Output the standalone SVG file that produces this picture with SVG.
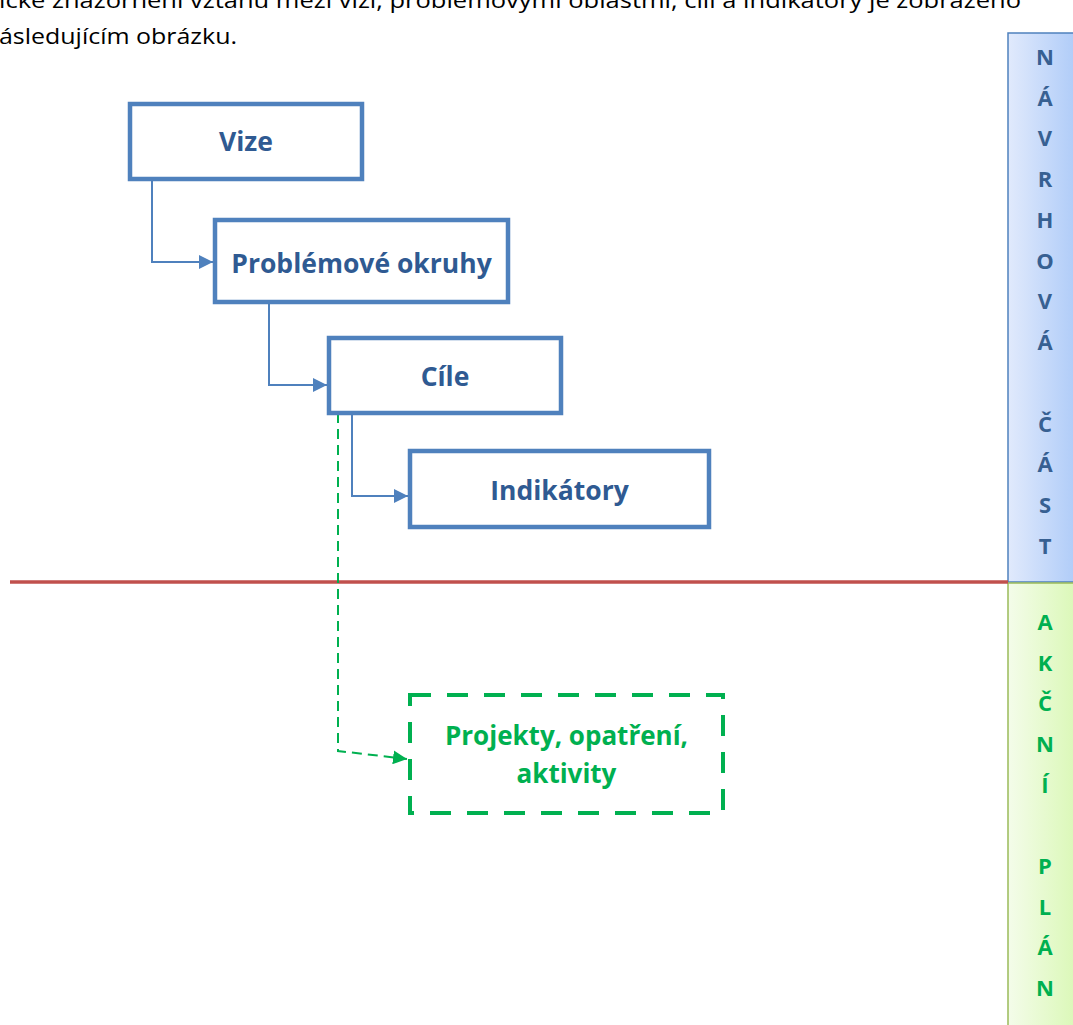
<svg xmlns="http://www.w3.org/2000/svg" width="1073" height="1025" viewBox="0 0 1073 1025">
<defs>
<linearGradient id="gBlue" x1="0" y1="0" x2="1" y2="0">
<stop offset="0" stop-color="#E1EAFC"/>
<stop offset="1" stop-color="#AECBF8"/>
</linearGradient>
<linearGradient id="gGreen" x1="0" y1="0" x2="1" y2="0">
<stop offset="0" stop-color="#F4FCEA"/>
<stop offset="1" stop-color="#DAF8B6"/>
</linearGradient>
<marker id="arrB" viewBox="0 0 10 10" refX="10" refY="5" markerWidth="14" markerHeight="14" markerUnits="userSpaceOnUse" orient="auto">
<path d="M0,0 L10,5 L0,10 z" fill="#4F81BD"/>
</marker>
<marker id="arrG" viewBox="0 0 10 10" refX="10" refY="5" markerWidth="14" markerHeight="14" markerUnits="userSpaceOnUse" orient="auto">
<path d="M0,0 L10,5 L0,10 z" fill="#00B050"/>
</marker>
</defs>
<style>
.body{font-family:"Open Sans","Liberation Sans",sans-serif;font-size:22px;fill:#000}
.box{fill:#fff;stroke:#4F81BD;stroke-width:4.5}
.lbl{font-family:"Open Sans","Liberation Sans",sans-serif;font-weight:bold;font-size:26.5px;fill:#2F5A92;text-anchor:middle}
.glbl{font-family:"Open Sans","Liberation Sans",sans-serif;font-weight:bold;font-size:26px;fill:#00B050;text-anchor:middle}
.side{font-family:"Open Sans","Liberation Sans",sans-serif;font-weight:bold;font-size:22px;text-anchor:middle}
.conn{fill:none;stroke:#4F81BD;stroke-width:2}
.gconn{fill:none;stroke:#00B050;stroke-width:2;stroke-dasharray:10 6}
</style>
<rect width="1073" height="1025" fill="#fff"/>
<g id="intro">
<text class="body" x="-1" y="8" textLength="1022" lengthAdjust="spacingAndGlyphs">ické znázornění vztahu mezi vizí, problémovými oblastmi, cíli a indikátory je zobrazeno</text>
<text class="body" x="-1" y="44" textLength="238" lengthAdjust="spacingAndGlyphs">ásledujícím obrázku.</text>
</g>
<g id="navrhova-cast">
<rect x="1008" y="33" width="70" height="549" fill="url(#gBlue)" stroke="#4F81BD" stroke-width="1.5"/>
<g class="side" fill="#376092">
<text x="1045" y="65">N</text>
<text x="1045" y="106">Á</text>
<text x="1045" y="146">V</text>
<text x="1045" y="187">R</text>
<text x="1045" y="228">H</text>
<text x="1045" y="269">O</text>
<text x="1045" y="309">V</text>
<text x="1045" y="350">Á</text>
<text x="1045" y="432">Č</text>
<text x="1045" y="472">Á</text>
<text x="1045" y="513">S</text>
<text x="1045" y="554">T</text>
</g>
</g>
<g id="akcni-plan">
<rect x="1008" y="583" width="70" height="450" fill="url(#gGreen)" stroke="#9BBB59" stroke-width="1.5"/>
<g class="side" fill="#00B050">
<text x="1045" y="630">A</text>
<text x="1045" y="671">K</text>
<text x="1045" y="711">Č</text>
<text x="1045" y="752">N</text>
<text x="1045" y="793">Í</text>
<text x="1045" y="874">P</text>
<text x="1045" y="915">L</text>
<text x="1045" y="955">Á</text>
<text x="1045" y="996">N</text>
</g>
</g>
<g id="divider">
<line x1="10" y1="582" x2="1008" y2="582" stroke="#C0504D" stroke-width="3.5"/>
</g>
<g id="connectors">
<polyline class="conn" points="152,181 152,262 213,262" marker-end="url(#arrB)"/>
<polyline class="conn" points="269,304 269,385 327,385" marker-end="url(#arrB)"/>
<polyline class="conn" points="352,415 352,496 408,496" marker-end="url(#arrB)"/>
<polyline class="gconn" points="338,413 338,751 407,759" marker-end="url(#arrG)"/>
</g>
<g id="vize">
<rect class="box" x="130" y="104" width="232" height="75"/>
<text class="lbl" x="246" y="151">Vize</text>
</g>
<g id="problemove-okruhy">
<rect class="box" x="215" y="220" width="293" height="82"/>
<text class="lbl" x="361.5" y="273">Problémové okruhy</text>
</g>
<g id="cile">
<rect class="box" x="329" y="338" width="232" height="75"/>
<text class="lbl" x="445" y="386">Cíle</text>
</g>
<g id="indikatory">
<rect class="box" x="410" y="451" width="299" height="76"/>
<text class="lbl" x="559.5" y="500">Indikátory</text>
</g>
<g id="projekty">
<rect x="410" y="695" width="313" height="118" fill="#fff" stroke="#00B050" stroke-width="4" stroke-dasharray="21 16"/>
<text class="glbl" x="566.5" y="745">Projekty, opatření,</text>
<text class="glbl" x="566.5" y="783">aktivity</text>
</g>
</svg>
